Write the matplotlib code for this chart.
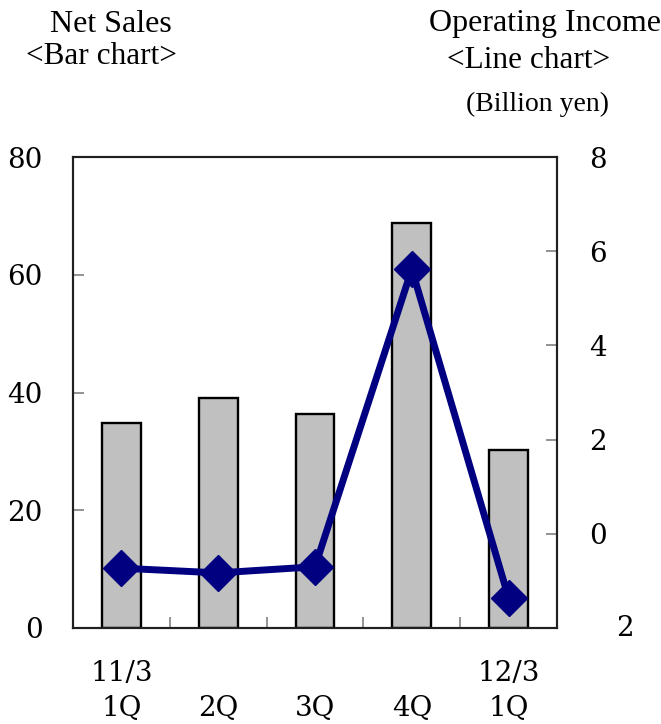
import matplotlib
matplotlib.use("Agg")
import matplotlib.pyplot as plt
import matplotlib.transforms as mtransforms

categories = ["11/3\n1Q", "\n2Q", "\n3Q", "\n4Q", "12/3\n1Q"]
net_sales = [34.8, 39.0, 36.3, 68.8, 30.2]
operating_income = [-0.73, -0.83, -0.70, 5.62, -1.36]
left_ticks = [0, 20, 40, 60, 80]
right_ticks = [0, 2, 4, 6, 8]

num_font = "DejaVu Serif"
txt_font = "Liberation Serif"

fig = plt.figure(figsize=(6.61, 7.24), dpi=100)
ax = fig.add_axes([73/661, 1 - 628/724, (557-73)/661, (628-157)/724])
ax2 = ax.twinx()

x = list(range(len(categories)))
ax.bar(x, net_sales, width=0.4, color="#C0C0C0", edgecolor="black", linewidth=1.7, zorder=2)
ax.set_xlim(-0.5, len(categories) - 0.5)
ax.set_ylim(0, 80)
ax.set_yticks(left_ticks)
ax.set_yticklabels([str(t) for t in left_ticks], fontfamily=num_font, fontsize=20)
ax.tick_params(axis="y", direction="in", length=8, color="#808080", width=1.2, pad=22)

ax.set_xticks(x)
ax.set_xticklabels(categories, fontfamily=num_font, fontsize=20, linespacing=1.38)
ax.set_xticks([i + 0.5 for i in range(len(categories) - 1)], minor=True)
ax.tick_params(axis="x", which="major", length=0, pad=23)
ax.tick_params(axis="x", which="minor", direction="in", length=8, color="#808080", width=1.2)
for lbl in ax.get_xticklabels():
    lbl.set_verticalalignment("top")

ax2.plot(x, operating_income, color="#000080", linewidth=5, marker="D", markersize=18,
         markerfacecolor="#000080", markeredgecolor="#000080", zorder=3)
ax2.set_ylim(-2, 8)
ax2.set_yticks(right_ticks)
ax2.set_yticklabels([str(t) for t in right_ticks], fontfamily=num_font, fontsize=20)
ax2.tick_params(axis="y", direction="in", length=8, color="#808080", width=1.2, pad=23)
ax2.text(1.1405, -2, "2", transform=mtransforms.blended_transform_factory(ax.transAxes, ax2.transData),
         ha="center", va="center", fontfamily=num_font, fontsize=20, clip_on=False)

for a in (ax, ax2):
    for s in a.spines.values():
        s.set_color("#202020")
        s.set_linewidth(1.5)

fig.text(111/661, 1 - 24/724, "Net Sales", ha="center", va="center", fontfamily=txt_font, fontsize=23)
fig.text(101/661, 1 - 56/724, "<Bar chart>", ha="center", va="center", fontfamily=txt_font, fontsize=22.5)
fig.text(545/661, 1 - 24/724, "Operating Income", ha="center", va="center", fontfamily=txt_font, fontsize=23)
fig.text(529/661, 1 - 60/724, "<Line chart>", ha="center", va="center", fontfamily=txt_font, fontsize=22.5)
fig.text(537/661, 1 - 104/724, "(Billion yen)", ha="center", va="center", fontfamily=txt_font, fontsize=20)

fig.savefig("out.png", dpi=100)
